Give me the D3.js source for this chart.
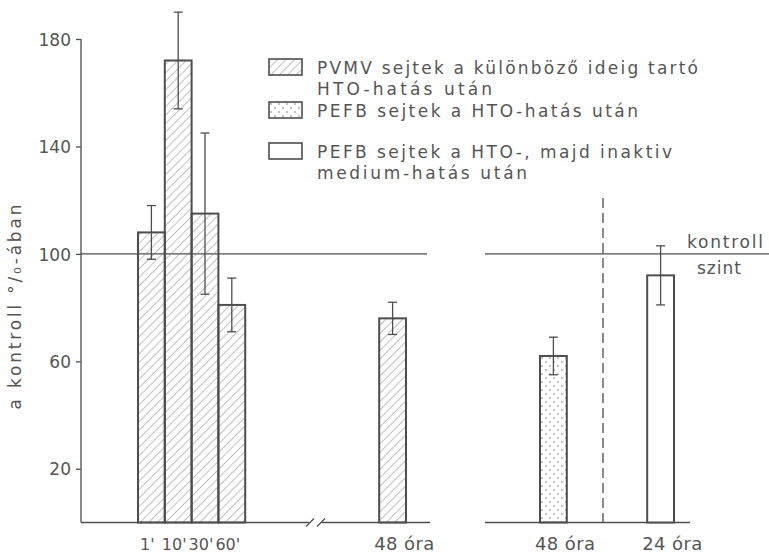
<!DOCTYPE html>
<html>
<head>
<meta charset="utf-8">
<script src="https://cdn.jsdelivr.net/npm/d3@7"></script>
<style>
  html, body { margin: 0; padding: 0; background: #fff; }
  svg { display: block; }
  text { font-family: "DejaVu Sans", sans-serif; fill: #555; }
</style>
</head>
<body>
<svg id="chart" width="769" height="554"></svg>
<script>
(function () {
    'use strict';

    // data
    var labels = ["1'", "10'", "30'", "60'", "48 óra", "48 óra", "24 óra"];
    var series = ["pvmv", "pvmv", "pvmv", "pvmv", "pvmv", "pefb", "pefbInakt"];
    var values = [108, 172, 115, 81, 76, 62, 92];
    var errors = [10, 18, 30, 10, 6, 7, 11];
    var yTicks = [20, 60, 100, 140, 180];
    var controlLevel = 100;
    var legendKeys = ["pvmv", "pefb", "pefbInakt"];
    var legendLines = [
        ["PVMV sejtek a különböző ideig tartó", "HTO-hatás után"],
        ["PEFB sejtek a HTO-hatás után"],
        ["PEFB sejtek a HTO-, majd inaktiv", "medium-hatás után"]
    ];

    var ink = "#4d4d4d";
    var svg = d3.select("#chart");

    // layout: each bar sits in a slot of a 20-slot band, gaps between groups
    var slotOf = [0, 1, 2, 3, 9, 15, 19];
    var bars = values.map(function (v, i) {
        return { label: labels[i], series: series[i], value: v, err: errors[i], slot: slotOf[i] };
    });

    var x = d3.scaleBand().domain(d3.range(20)).range([138, 674]).padding(0);
    var y = d3.scaleLinear().domain([0, 180]).range([522.5, 39]);

    var defs = svg.append("defs");
    var hatch = defs.append("pattern")
        .attr("id", "hatch")
        .attr("patternUnits", "userSpaceOnUse")
        .attr("width", 6).attr("height", 6)
        .attr("patternTransform", "rotate(45)");
    hatch.append("line")
        .attr("x1", 0).attr("y1", 0).attr("x2", 0).attr("y2", 6)
        .attr("stroke", "#808080").attr("stroke-width", 1);
    var dots = defs.append("pattern")
        .attr("id", "dots")
        .attr("patternUnits", "userSpaceOnUse")
        .attr("width", 8).attr("height", 8);
    dots.append("circle").attr("cx", 2).attr("cy", 2).attr("r", 0.8).attr("fill", "#777");
    dots.append("circle").attr("cx", 6).attr("cy", 6).attr("r", 0.8).attr("fill", "#777");

    var fillOf = { pvmv: "url(#hatch)", pefb: "url(#dots)", pefbInakt: "#fff" };

    // y axis
    var yAxis = d3.axisLeft(y).tickValues(yTicks).tickSize(5).tickSizeOuter(0).tickPadding(5);
    var gy = svg.append("g").attr("transform", "translate(81,0)").call(yAxis);
    gy.select(".domain").attr("stroke", ink).attr("stroke-width", 1.3)
        .attr("d", "M0," + y(180) + "V" + y(0));
    gy.selectAll(".tick line").attr("stroke", ink).attr("stroke-width", 1.3);
    gy.selectAll(".tick text")
        .style("font-family", "'DejaVu Sans', sans-serif")
        .attr("font-size", 17).attr("fill", "#555").attr("dy", "0.36em");

    svg.append("text")
        .attr("transform", "translate(21," + 307 + ") rotate(-90)")
        .attr("text-anchor", "middle")
        .attr("font-size", 17)
        .attr("textLength", 205).attr("lengthAdjust", "spacing")
        .text("a kontroll °/₀-ában");

    // control line at 100 and baselines
    var lineG = svg.append("g").attr("stroke", ink).attr("stroke-width", 1.3).attr("fill", "none");
    lineG.append("line").attr("x1", 81).attr("x2", 427).attr("y1", y(controlLevel)).attr("y2", y(controlLevel));
    lineG.append("line").attr("x1", 485).attr("x2", 769).attr("y1", y(controlLevel)).attr("y2", y(controlLevel));
    lineG.append("line").attr("x1", 81).attr("x2", 309).attr("y1", y(0)).attr("y2", y(0));
    lineG.append("line").attr("x1", 322).attr("x2", 430).attr("y1", y(0)).attr("y2", y(0));
    lineG.append("line").attr("x1", 485).attr("x2", 690).attr("y1", y(0)).attr("y2", y(0));
    // axis break marks
    [306, 317].forEach(function (bx) {
        lineG.append("line").attr("x1", bx).attr("y1", y(0) + 4).attr("x2", bx + 8).attr("y2", y(0) - 4);
    });
    // dashed separator
    lineG.append("line")
        .attr("x1", 603).attr("x2", 603).attr("y1", 198).attr("y2", y(0))
        .attr("stroke-dasharray", "10,5");

    svg.append("text").attr("x", 725).attr("y", 248).attr("text-anchor", "middle")
        .attr("font-size", 17).attr("textLength", 76).attr("lengthAdjust", "spacing").text("kontroll");
    svg.append("text").attr("x", 719).attr("y", 274).attr("text-anchor", "middle")
        .attr("font-size", 17).attr("textLength", 44).attr("lengthAdjust", "spacing").text("szint");

    // bars
    var barG = svg.append("g");
    barG.selectAll("rect.bar")
        .data(bars)
        .enter()
        .append("rect")
        .attr("class", "bar")
        .attr("x", function (d) { return x(d.slot); })
        .attr("width", x.bandwidth())
        .attr("y", function (d) { return y(d.value); })
        .attr("height", function (d) { return y(0) - y(d.value); })
        .attr("fill", function (d) { return fillOf[d.series]; })
        .attr("stroke", ink)
        .attr("stroke-width", 2);

    // error bars
    var errG = barG.selectAll("g.err")
        .data(bars)
        .enter()
        .append("g")
        .attr("class", "err")
        .attr("stroke", ink)
        .attr("stroke-width", 1.3)
        .attr("transform", function (d) { return "translate(" + (x(d.slot) + x.bandwidth() / 2) + ",0)"; });
    errG.append("line")
        .attr("y1", function (d) { return y(d.value + d.err); })
        .attr("y2", function (d) { return y(d.value - d.err); });
    errG.append("line")
        .attr("x1", -4.5).attr("x2", 4.5)
        .attr("y1", function (d) { return y(d.value + d.err); })
        .attr("y2", function (d) { return y(d.value + d.err); });
    errG.append("line")
        .attr("x1", -4.5).attr("x2", 4.5)
        .attr("y1", function (d) { return y(d.value - d.err); })
        .attr("y2", function (d) { return y(d.value - d.err); });

    // category labels
    svg.selectAll("text.cat")
        .data(bars)
        .enter()
        .append("text")
        .attr("class", "cat")
        .attr("font-size", function (d) { return d.slot < 4 ? 16 : 18; })
        .attr("y", 550)
        .attr("x", function (d) {
            return d.slot < 4 ? x(d.slot) + x.bandwidth() / 2 - 4 : x(d.slot) - 5;
        })
        .attr("text-anchor", function (d) { return d.slot < 4 ? "middle" : "start"; })
        .attr("textLength", function (d) { return d.slot < 4 ? null : 60; })
        .attr("lengthAdjust", "spacing")
        .text(function (d) { return d.label; });

    // legend
    var legend = svg.append("g").attr("transform", "translate(269,59)");
    var rowY = [0, 43, 84];
    var lineWidths = [[381, 175], [321], [355, 210]];
    legendKeys.forEach(function (key, i) {
        var row = legend.append("g").attr("transform", "translate(0," + rowY[i] + ")");
        row.append("rect")
            .attr("width", 33).attr("height", 16)
            .attr("fill", fillOf[key])
            .attr("stroke", ink).attr("stroke-width", 1.6);
        legendLines[i].forEach(function (t, j) {
            row.append("text")
                .attr("x", 48).attr("y", 15 + j * 21)
                .attr("font-size", 17)
                .attr("textLength", lineWidths[i][j]).attr("lengthAdjust", "spacing")
                .text(t);
        });
    });
}());
</script>
</body>
</html>
